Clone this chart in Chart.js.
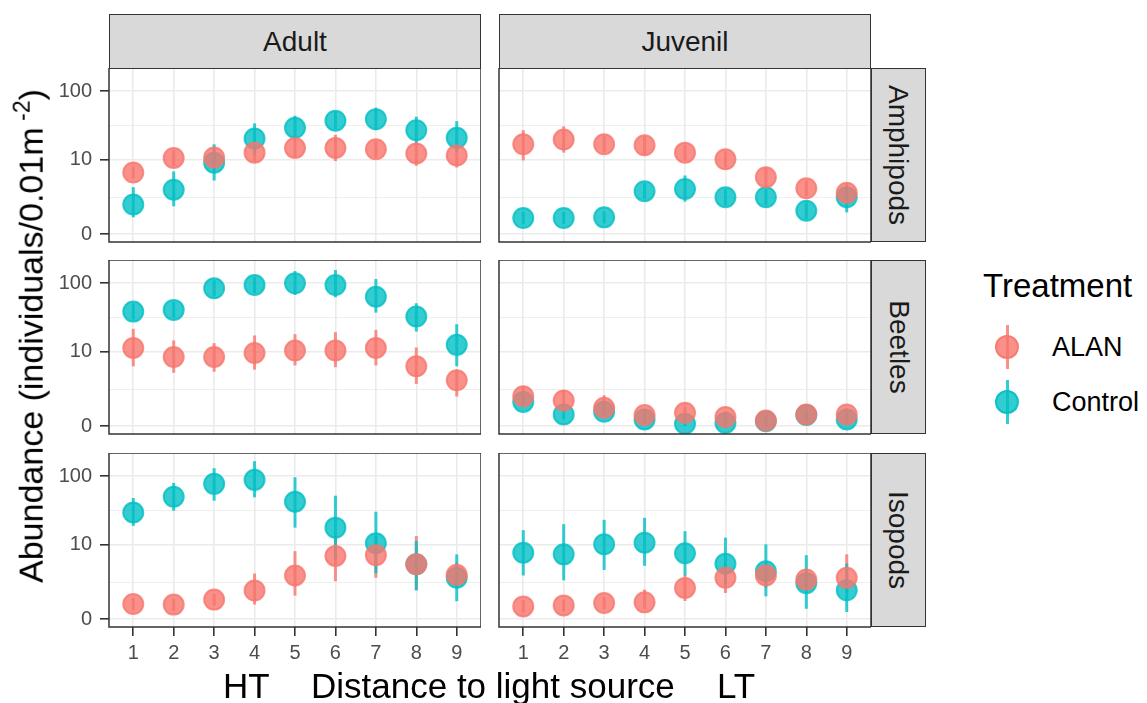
<!DOCTYPE html>
<html>
<head>
<meta charset="utf-8">
<script src="https://cdn.jsdelivr.net/npm/chart.js@4.4.1/dist/chart.umd.min.js"></script>
<style>
    html, body { margin: 0; padding: 0; background: #fff; }
    body {
        width: 1147px; height: 703px; position: relative; overflow: hidden;
        font-family: "Liberation Sans", Arial, sans-serif;
    }
    .panel { position: absolute; }
    .strip {
        position: absolute; background: #d9d9d9; border: 1.5px solid #333;
        box-sizing: border-box; color: #1a1a1a; font-size: 28px;
        display: flex; align-items: center; justify-content: center;
    }
    .strip.side span { transform: rotate(90deg); white-space: nowrap; }
    .label { position: absolute; white-space: nowrap; line-height: 1; color: #000; }
    .key-line { position: absolute; width: 3px; height: 44px; }
    .key-dot { position: absolute; width: 20px; height: 20px; border-radius: 50%; border: 2px solid; }
</style>
</head>
<body>
<div id="figure"></div>

<script>
// Abundance per distance step (1 = HT ... 9 = LT).
// For every series: mean, lower and upper end of the error bar.
const distances = [1, 2, 3, 4, 5, 6, 7, 8, 9];
const stages = ['Adult', 'Juvenil'];
const taxa = ['Amphipods', 'Beetles', 'Isopods'];
const treatments = ['ALAN', 'Control'];
const yTickValues = [0, 10, 100];
const yTickLabels = ['0', '10', '100'];

// Amphipods
const amphiAdultAlan = [6.3, 10.7, 10.9, 12.9, 15.2, 15.2, 14.5, 12.5, 11.7];
const amphiAdultAlanLo = [5.0, 8.0, 8.2, 9.4, 11.1, 9.6, 10.9, 8.1, 7.6];
const amphiAdultAlanHi = [7.8, 14.2, 14.5, 17.6, 20.7, 23.7, 19.1, 18.9, 17.8];
const amphiAdultCtrl = [1.6, 3.2, 9.0, 20.9, 30, 38, 40, 27.7, 21.4];
const amphiAdultCtrlLo = [0.72, 1.46, 4.65, 12.0, 20.9, 28.4, 27.7, 18.2, 13.2];
const amphiAdultCtrlHi = [3.56, 6.57, 17.2, 34.7, 44.8, 50.9, 58.4, 43.4, 37.5];
const amphiJuvAlan = [17.2, 20.2, 17.2, 16.6, 12.9, 10.2, 5.3, 3.4, 2.8];
const amphiJuvAlanLo = [9.8, 12.9, 13.0, 12.2, 9.7, 7.6, 3.6, 2.4, 1.9];
const amphiJuvAlanHi = [27.7, 31.4, 22.6, 22.6, 17.0, 13.5, 7.7, 4.7, 4.1];
const amphiJuvCtrl = [0.68, 0.68, 0.72, 3.0, 3.3, 2.3, 2.3, 1.13, 2.3];
const amphiJuvCtrlLo = [0.38, 0.38, 0.41, 2.1, 1.86, 1.54, 1.54, 0.64, 1.02];
const amphiJuvCtrlHi = [1.05, 1.05, 1.09, 4.2, 5.65, 3.27, 3.27, 1.77, 3.56];

// Beetles
const beetAdultAlan = [11.5, 8.3, 8.3, 9.6, 10.5, 10.5, 11.5, 5.9, 3.4];
const beetAdultAlanLo = [5.9, 4.6, 4.8, 5.2, 6.1, 5.7, 6.1, 2.9, 1.6];
const beetAdultAlanHi = [22.2, 14.9, 13.6, 17.7, 18.5, 19.8, 21.4, 11.7, 5.2];
const beetAdultCtrl = [39.4, 41.7, 84.7, 94.3, 99.7, 94.3, 64.4, 33.4, 12.8];
const beetAdultCtrlLo = [30.2, 32, 65.2, 72.6, 68.1, 63.1, 38.1, 20.2, 5.9];
const beetAdultCtrlHi = [51.2, 54.2, 110, 122, 148.5, 153.5, 114.6, 51.9, 25.9];
const beetJuvAlan = [1.62, 1.29, 0.81, 0.43, 0.54, 0.34, 0.20, 0.46, 0.46];
const beetJuvAlanLo = [1.03, 0.73, 0.43, 0.17, 0.27, 0.10, 0.0, 0.2, 0.2];
const beetJuvAlanHi = [2.62, 2.18, 1.71, 0.73, 0.87, 0.62, 0.46, 0.77, 0.77];
const beetJuvCtrl = [1.19, 0.46, 0.59, 0.24, 0.08, 0.11, 0.17, 0.43, 0.24];
const beetJuvCtrlLo = [0.87, 0.24, 0.35, 0.06, 0, 0, 0, 0.21, 0.06];
const beetJuvCtrlHi = [1.57, 0.71, 0.87, 0.46, 0.27, 0.31, 0.38, 0.67, 0.46];

// Isopods
const isoAdultAlan = [0.63, 0.60, 0.88, 1.52, 3.1, 6.7, 6.9, 4.9, 3.2];
const isoAdultAlanLo = [0.34, 0.31, 0.55, 0.60, 1.14, 2.4, 2.8, 1.54, 1.87];
const isoAdultAlanHi = [0.98, 0.94, 1.28, 3.37, 8.0, 13.7, 13.7, 13.7, 5.25];
const isoAdultCtrl = [30.3, 51.2, 77.9, 88.8, 43.4, 18.2, 10.6, 4.9, 2.8];
const isoAdultCtrlLo = [19.3, 32.1, 44.8, 50.1, 18.2, 5.9, 3.4, 1.54, 0.78];
const isoAdultCtrlHi = [49, 80.5, 129.9, 163.4, 96.7, 52.9, 31.1, 11.5, 7.1];
const isoJuvAlan = [0.51, 0.56, 0.68, 0.72, 1.74, 2.8, 3.1, 2.6, 2.8];
const isoJuvAlanLo = [0.24, 0.28, 0.38, 0.41, 0.80, 1.33, 1.77, 1.60, 1.33];
const isoJuvAlanHi = [0.84, 0.88, 1.04, 1.60, 3.18, 5.17, 5.04, 3.98, 7.11];
const isoJuvCtrl = [7.55, 7.1, 10.2, 10.8, 7.4, 5.0, 3.7, 2.2, 1.54];
const isoJuvCtrlLo = [3.1, 2.5, 3.9, 4.6, 3.1, 2.1, 1.09, 0.40, 0.26];
const isoJuvCtrlHi = [16.7, 20.5, 23.7, 25.4, 16.1, 12.9, 10.2, 6.9, 5.0];

// rows = taxa, columns = stages, each cell: [ALAN mean, lo, hi, Control mean, lo, hi]
const panels = [
    [[amphiAdultAlan, amphiAdultAlanLo, amphiAdultAlanHi, amphiAdultCtrl, amphiAdultCtrlLo, amphiAdultCtrlHi],
     [amphiJuvAlan, amphiJuvAlanLo, amphiJuvAlanHi, amphiJuvCtrl, amphiJuvCtrlLo, amphiJuvCtrlHi]],
    [[beetAdultAlan, beetAdultAlanLo, beetAdultAlanHi, beetAdultCtrl, beetAdultCtrlLo, beetAdultCtrlHi],
     [beetJuvAlan, beetJuvAlanLo, beetJuvAlanHi, beetJuvCtrl, beetJuvCtrlLo, beetJuvCtrlHi]],
    [[isoAdultAlan, isoAdultAlanLo, isoAdultAlanHi, isoAdultCtrl, isoAdultCtrlLo, isoAdultCtrlHi],
     [isoJuvAlan, isoJuvAlanLo, isoJuvAlanHi, isoJuvCtrl, isoJuvCtrlLo, isoJuvCtrlHi]]
];

const COLORS = { ALAN: 'rgba(248,118,109,0.8)', Control: 'rgba(0,191,196,0.8)' };

// layout (px)
const colLeft = [109, 499];
const colWidth = 372;
const rowTop = [68, 260, 453];
const rowHeight = 174;
const AXW = 70;
const AXH = 45;

// pseudo-log axis: log10(x + 1)
const tr = v => Math.log10(v + 1);
const majorT = yTickValues.map(tr);
const minorT = [(majorT[0] + majorT[1]) / 2, (majorT[1] + majorT[2]) / 2];
const isMajor = v => majorT.some(m => Math.abs(m - v) < 1e-6);

// keep the panel exactly where the layout puts it
function fixSize(prop, size) {
    return s => {
        s[prop] = size;
        s.paddingTop = s.paddingBottom = s.paddingLeft = s.paddingRight = 0;
    };
}

const errorBars = {
    id: 'errorBars',
    beforeDatasetsDraw(chart) {
        const { ctx, chartArea: a, scales } = chart;
        ctx.save();
        ctx.beginPath();
        ctx.rect(a.left, a.top, a.right - a.left, a.bottom - a.top);
        ctx.clip();
        ctx.lineWidth = 3;
        chart.data.datasets.forEach(ds => {
            ctx.strokeStyle = ds.borderColor;
            ds.data.forEach(p => {
                const x = scales.x.getPixelForValue(p.x);
                ctx.beginPath();
                ctx.moveTo(x, scales.y.getPixelForValue(p.lo));
                ctx.lineTo(x, scales.y.getPixelForValue(p.hi));
                ctx.stroke();
            });
        });
        ctx.restore();
    }
};

const panelBorder = {
    id: 'panelBorder',
    afterDatasetsDraw(chart) {
        const { ctx, chartArea: a } = chart;
        ctx.save();
        ctx.strokeStyle = '#333';
        ctx.lineWidth = 1.5;
        ctx.strokeRect(a.left, a.top, a.right - a.left, a.bottom - a.top);
        ctx.restore();
    }
};

function series(mean, lo, hi) {
    return distances.map((d, i) => ({ x: d, y: tr(mean[i]), lo: tr(lo[i]), hi: tr(hi[i]) }));
}

function makePanel(row, col) {
    const fig = document.getElementById('figure');
    const wrap = document.createElement('div');
    wrap.className = 'panel';
    wrap.style.left = (colLeft[col] - AXW) + 'px';
    wrap.style.top = rowTop[row] + 'px';
    const canvas = document.createElement('canvas');
    canvas.width = colWidth + AXW;
    canvas.height = rowHeight + AXH;
    wrap.appendChild(canvas);
    fig.appendChild(wrap);

    const cell = panels[row][col];
    const showY = col === 0;
    const showX = row === taxa.length - 1;

    new Chart(canvas, {
        type: 'scatter',
        data: {
            datasets: treatments.map((t, k) => ({
                label: t,
                data: series(cell[k * 3], cell[k * 3 + 1], cell[k * 3 + 2]),
                backgroundColor: COLORS[t],
                borderColor: COLORS[t],
                borderWidth: 2,
                pointRadius: 10,
                pointHoverRadius: 10,
                clip: 0
            }))
        },
        options: {
            responsive: false,
            animation: false,
            events: [],
            layout: { padding: 0, autoPadding: false },
            plugins: { legend: { display: false }, tooltip: { enabled: false } },
            scales: {
                x: {
                    type: 'linear', min: 0.4, max: 9.6,
                    afterBuildTicks: s => { s.ticks = distances.map(v => ({ value: v })); },
                    afterFit: fixSize('height', AXH),
                    border: { display: false },
                    grid: {
                        color: '#ebebeb', lineWidth: 1.6,
                        drawTicks: showX, tickLength: 9, tickColor: '#333', tickWidth: 1.6
                    },
                    ticks: {
                        display: showX, autoSkip: false, maxRotation: 0, padding: 5,
                        color: '#4d4d4d', font: { size: 20, family: '"Liberation Sans", Arial, sans-serif' },
                        callback: v => String(v)
                    }
                },
                y: {
                    type: 'linear', min: -0.11, max: 2.33,
                    afterBuildTicks: s => {
                        s.ticks = [majorT[0], minorT[0], majorT[1], minorT[1], majorT[2]].map(v => ({ value: v }));
                    },
                    afterFit: fixSize('width', AXW),
                    border: { display: false },
                    grid: {
                        color: '#ebebeb',
                        lineWidth: c => (c.tick && isMajor(c.tick.value)) ? 1.6 : 0.8,
                        drawTicks: showY, tickLength: 9, tickWidth: 1.6,
                        tickColor: c => (c.tick && isMajor(c.tick.value)) ? '#333' : 'rgba(0,0,0,0)'
                    },
                    ticks: {
                        display: showY, autoSkip: false, padding: 8,
                        color: '#4d4d4d', font: { size: 20, family: '"Liberation Sans", Arial, sans-serif' },
                        callback: v => {
                            const k = majorT.findIndex(m => Math.abs(m - v) < 1e-6);
                            return k >= 0 ? yTickLabels[k] : '';
                        }
                    }
                }
            }
        },
        plugins: [errorBars, panelBorder]
    });
}

function addDiv(cls, html, css) {
    const d = document.createElement('div');
    d.className = cls;
    d.innerHTML = html;
    Object.assign(d.style, css);
    document.getElementById('figure').appendChild(d);
    return d;
}

function buildFigure() {
    taxa.forEach((_, r) => stages.forEach((_, c) => makePanel(r, c)));

    // facet strips
    stages.forEach((s, c) => addDiv('strip', s, {
        left: colLeft[c] + 'px', top: '14px', width: colWidth + 'px', height: '55px'
    }));
    taxa.forEach((t, r) => addDiv('strip side', '<span>' + t + '</span>', {
        left: (colLeft[1] + colWidth) + 'px', top: rowTop[r] + 'px', width: '55px', height: rowHeight + 'px'
    }));

    // axis titles
    addDiv('label', 'Abundance (individuals/0.01m<sup style="font-size:0.68em;vertical-align:0.55em"> -2</sup>)', {
        left: '29px', top: '336px', fontSize: '34px', transform: 'translate(-50%,-50%) rotate(-90deg)'
    });
    addDiv('label', 'HT', { left: '223px', top: '685px', fontSize: '35px', transform: 'translateY(-50%)' });
    addDiv('label', 'Distance to light source', { left: '311px', top: '685px', fontSize: '35px', transform: 'translateY(-50%)' });
    addDiv('label', 'LT', { left: '717px', top: '685px', fontSize: '35px', transform: 'translateY(-50%)' });

    // legend
    addDiv('label', 'Treatment', { left: '983px', top: '285px', fontSize: '33px', transform: 'translateY(-50%)' });
    treatments.forEach((t, k) => {
        const cy = 347 + k * 55;
        addDiv('key-line', '', { left: '1006px', top: (cy - 22) + 'px', background: COLORS[t] });
        addDiv('key-dot', '', { left: '995px', top: (cy - 12) + 'px', background: COLORS[t], borderColor: COLORS[t] });
        addDiv('label', t, { left: '1052px', top: cy + 'px', fontSize: '27px', transform: 'translateY(-50%)' });
    });
}

buildFigure();
</script>
</body>
</html>
